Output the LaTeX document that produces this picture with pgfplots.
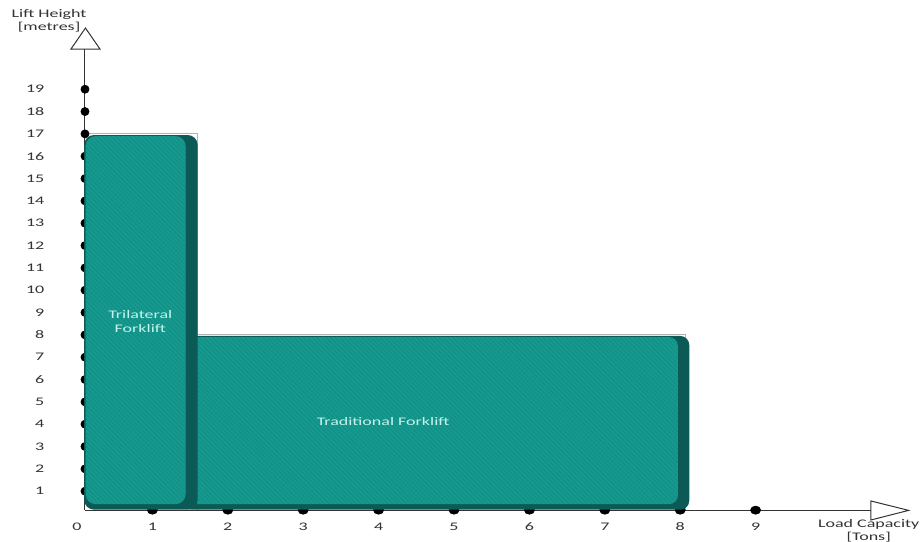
\documentclass[border=0pt]{standalone}
\usepackage{fontspec}
\setmainfont{Carlito}
\usepackage{pgfplots}
\pgfplotsset{compat=1.18}
\usetikzlibrary{patterns.meta}
\definecolor{tealmain}{RGB}{22,153,143}
\definecolor{tealdark}{RGB}{11,90,85}
\definecolor{tealstripe}{RGB}{19,141,131}
\definecolor{labeltext}{RGB}{195,243,235}
\begin{document}
\begin{tikzpicture}
\useasboundingbox (-38.5pt,-13.75pt) rectangle (421.5pt,256.75pt);
\begin{axis}[
  at={(0,0)}, anchor=south west,
  x=37.7pt, y=11.165pt,
  xmin=0, xmax=11.18, ymin=0, ymax=23,
  enlargelimits=false,
  clip=false,
  clip marker paths=true,
  axis line style={draw=none},
  major tick length=0pt,
  xtick={0,...,9}, ytick={1,...,19},
  tick label style={font=\fontsize{5.8}{7}\selectfont, text=black!80, xscale=1.55},
  yticklabel style={anchor=east, xshift=-7pt},
  xticklabel style={anchor=north, yshift=-1.2pt},
  /pgf/number format/assume math mode=true,
]
% outline rectangles
\addplot[draw=gray!60, line width=0.4pt] coordinates {(1.6,0.15)(1.6,8)(8.07,8)(8.07,0.15)};
\addplot[draw=gray!60, line width=0.4pt] coordinates {(0.106,17)(1.6,17)(1.6,8)};
% axis lines
\addplot[draw=black!80, line width=0.5pt] coordinates {(0.106,0.15)(0.106,20.8)};
\addplot[draw=black!80, line width=0.5pt] coordinates {(0.106,0.15)(10.53,0.15)};
% arrow heads
\addplot[draw=black!80, fill=white, line width=0.5pt] coordinates {(-0.08,20.8)(0.112,21.74)(0.305,20.8)} -- cycle;
\addplot[draw=black!80, fill=white, line width=0.5pt] coordinates {(10.53,-0.29)(11.03,0.14)(10.53,0.56)} -- cycle;
% dots
\addplot[only marks, mark=*, mark size=2pt, black] coordinates {
(0.106,1)(0.106,2)(0.106,3)(0.106,4)(0.106,5)(0.106,6)(0.106,7)(0.106,8)(0.106,9)(0.106,10)
(0.106,11)(0.106,12)(0.106,13)(0.106,14)(0.106,15)(0.106,16)(0.106,17)(0.106,18)(0.106,19)};
\addplot[only marks, mark=*, mark size=2pt, mark options={xscale=1.25}, black] coordinates {
(1,0.15)(2,0.15)(3,0.15)(4,0.15)(5,0.15)(6,0.15)(7,0.15)(8,0.15)(9,0.15)};
% traditional forklift
\addplot[fill=tealdark, draw=none, rounded corners=4.5pt] coordinates {(1.4,0.17)(1.4,7.95)(8.12,7.95)(8.12,0.17)} -- cycle;
\addplot[fill=tealmain, draw=none, rounded corners=4.5pt,
  postaction={pattern={Lines[angle=-45,distance=1.6pt,line width=0.4pt]}, pattern color=tealstripe}]
  coordinates {(1.4,0.42)(1.4,7.9)(7.97,7.9)(7.97,0.42)} -- cycle;
% trilateral forklift
\addplot[fill=tealdark, draw=none, rounded corners=5pt] coordinates {(0.095,0.17)(0.095,16.95)(1.6,16.95)(1.6,0.17)} -- cycle;
\addplot[fill=tealmain, draw=none, rounded corners=5pt,
  postaction={pattern={Lines[angle=-45,distance=1.6pt,line width=0.4pt]}, pattern color=tealstripe}]
  coordinates {(0.115,0.42)(0.115,16.9)(1.44,16.9)(1.44,0.42)} -- cycle;
% labels
\node[text=labeltext, align=center, font=\fontsize{5.8}{7}\selectfont, xscale=1.55] at (axis cs:0.84,8.58) {Trilateral\\Forklift};
\node[text=labeltext, font=\fontsize{5.8}{7}\selectfont, xscale=1.55] at (axis cs:4.06,4.1) {Traditional Forklift};
\node[text=black!80, align=center, font=\fontsize{5.8}{6.5}\selectfont, xscale=1.55] at (axis cs:-0.37,22.08) {Lift Height\\{[}metres{]}};
\node[text=black!80, align=center, font=\fontsize{5.8}{6.5}\selectfont, xscale=1.55] at (axis cs:10.5,-0.76) {Load Capacity\\{[}Tons{]}};
\end{axis}
\end{tikzpicture}
\end{document}
